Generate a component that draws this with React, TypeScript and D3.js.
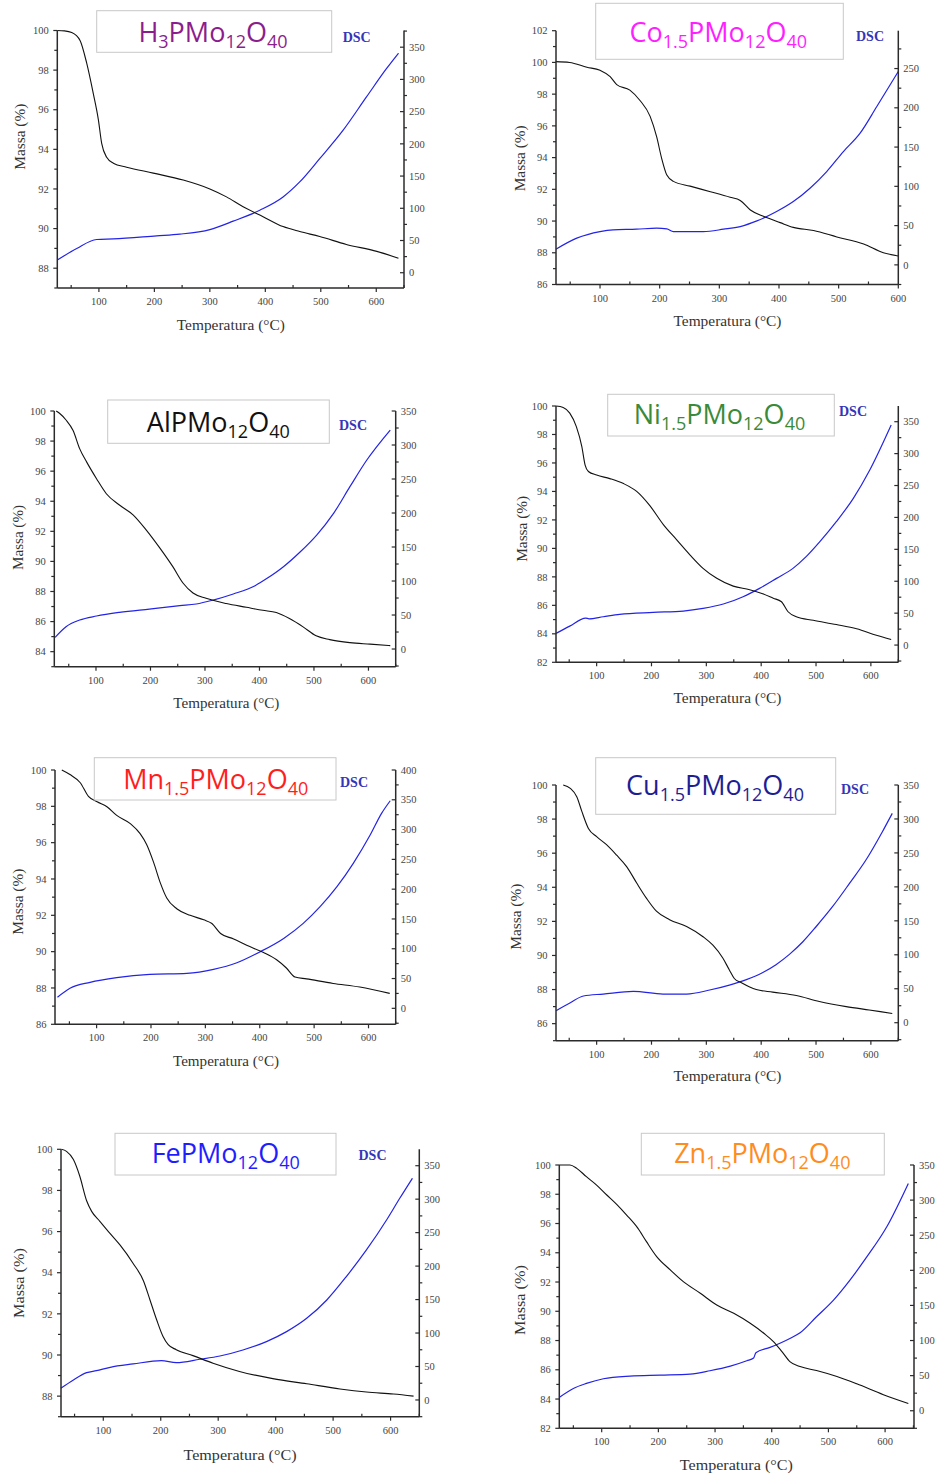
import React from 'react';
import * as d3 from 'd3';

type Pt = [number, number];

// ---------- data (temperature °C, value) ----------
const H3_TGA: Pt[] = [[25,100],[38,99.98],[51,99.9],[66,99.5],[78,98.35],[90,96.8],[99,95.5],[105,94.3],[114,93.6],[126,93.3],[150,93.1],[198,92.8],[252,92.45],[300,92.0],[330,91.6],[360,91.1],[396,90.6],[432,90.1],[462,89.85],[498,89.6],[546,89.2],[601,88.85],[640,88.5]];
const H3_DSC: Pt[] = [[25,19.6],[60,37.7],[96,51.6],[126,52.6],[204,57.3],[246,59.9],[300,67],[342,80],[390,97],[432,117.6],[462,140.9],[498,177],[540,220.8],[582,272.4],[618,316.3],[640,340.6]];

const CO_TGA: Pt[] = [[26,100.05],[49,100],[78,99.7],[100,99.5],[117,99.1],[128,98.6],[150,98.25],[167,97.6],[184,96.6],[195,95.3],[203,94.0],[212,92.9],[223,92.5],[251,92.2],[285,91.85],[318,91.5],[335,91.3],[352,90.7],[374,90.3],[402,89.9],[424,89.6],[458,89.4],[497,89.0],[542,88.55],[575,88.0],[600,87.8]];
const CO_DSC: Pt[] = [[26,19.9],[61,34],[100,42.4],[122,44.6],[161,45.4],[195,46.7],[212,45.8],[223,42.4],[273,42.4],[307,45.4],[335,48.8],[363,56],[396,67.9],[424,80.6],[452,97.6],[480,118.8],[508,144.3],[536,167.7],[564,201.6],[600,246.2]];

const AL_TGA: Pt[] = [[27,100],[33,99.85],[45,99.4],[58,98.7],[70,97.5],[83,96.6],[101,95.5],[119,94.5],[143,93.75],[168,93.1],[192,92.1],[217,90.9],[241,89.65],[260,88.55],[278,87.9],[302,87.55],[339,87.2],[376,86.95],[406,86.75],[431,86.6],[455,86.2],[480,85.65],[504,85.05],[529,84.8],[566,84.6],[603,84.5],[640,84.4]];
const AL_DSC: Pt[] = [[25,17.2],[45,32.8],[70,42.6],[101,48.5],[143,53.9],[198,58.8],[254,63.7],[284,66.2],[315,72],[352,80.9],[392,93.1],[414,103.9],[444,121],[475,143],[505,167.6],[536,199.5],[566,238.7],[597,277.9],[640,322]];

const NI_TGA: Pt[] = [[26,100],[39,99.9],[51,99.5],[63,98.55],[73,97.15],[79,95.85],[85,95.4],[100,95.15],[124,94.9],[149,94.55],[173,94.0],[197,93.0],[222,91.65],[246,90.6],[270,89.55],[294,88.6],[319,87.9],[349,87.35],[379,87.1],[404,86.8],[422,86.5],[437,86.25],[449,85.55],[464,85.2],[495,84.95],[537,84.65],[574,84.35],[610,83.9],[637,83.6]];
const NI_DSC: Pt[] = [[26,18.3],[51,29.7],[80,42.3],[86,41.2],[112,44.4],[142,48.1],[203,51.2],[258,53.3],[294,57.5],[331,64.3],[367,75.8],[397,88.8],[428,104.5],[458,120.2],[482,138.5],[507,162],[537,193.3],[568,229.9],[598,274.3],[637,344.8]];

const MN_TGA: Pt[] = [[36,100],[51,99.75],[70,99.3],[85,98.55],[101,98.25],[119,97.98],[137,97.5],[162,97.05],[180,96.5],[192,95.9],[205,94.9],[217,93.8],[229,92.95],[248,92.35],[272,92.0],[297,91.75],[312,91.55],[328,91.0],[352,90.7],[376,90.35],[407,89.95],[431,89.55],[449,89.1],[465,88.6],[486,88.5],[535,88.25],[584,88.05],[639,87.7]];
const MN_DSC: Pt[] = [[28,18.5],[51,33.6],[88,43.6],[137,51.5],[198,57],[266,58.7],[315,65.4],[358,76.6],[401,95.1],[444,117.4],[480,142.6],[511,170.6],[542,204.1],[572,243.3],[603,290.8],[624,327.2],[640,348.4]];

const CU_TGA: Pt[] = [[39,100],[52,99.8],[64,99.3],[73,98.45],[85,97.45],[100,96.97],[118,96.5],[136,95.9],[155,95.2],[173,94.25],[191,93.35],[209,92.6],[233,92.1],[264,91.7],[294,91.1],[312,90.6],[330,89.85],[342,89.15],[351,88.65],[364,88.4],[391,88.0],[421,87.85],[464,87.65],[506,87.3],[555,87.0],[597,86.8],[639,86.6]];
const CU_DSC: Pt[] = [[26,17.7],[52,29.4],[76,39.3],[112,42.2],[167,46.1],[221,42.2],[264,42.2],[306,48.1],[342,55.4],[373,63.5],[403,74],[427,85.5],[452,101],[476,119.2],[500,141.3],[530,170.8],[561,205.1],[591,239.5],[621,281.2],[639,308.2]];

const FE_TGA: Pt[] = [[27,100],[36,99.9],[48,99.5],[59,98.7],[71,97.5],[80,96.97],[94,96.5],[112,95.9],[129,95.35],[152,94.45],[170,93.6],[181,92.7],[193,91.7],[204,90.9],[213,90.5],[227,90.26],[256,89.97],[291,89.6],[337,89.2],[395,88.85],[454,88.6],[512,88.35],[558,88.2],[605,88.1],[640,88.0]];
const FE_DSC: Pt[] = [[26,17.4],[48,29.9],[71,40.8],[88,43.8],[112,48.8],[152,53.8],[201,58.8],[227,55.8],[268,60.8],[303,65.7],[343,74.7],[384,87.2],[419,102.1],[454,122],[489,149.4],[523,184.3],[558,224.1],[593,268.9],[616,301.3],[638,331.2]];

const ZN_TGA: Pt[] = [[25,100],[44,100],[56,99.77],[73,99.2],[91,98.63],[109,97.95],[126,97.33],[144,96.58],[164,95.67],[179,94.76],[197,93.74],[221,92.83],[244,92.03],[274,91.23],[303,90.43],[333,89.86],[362,89.18],[386,88.5],[403,87.93],[418,87.24],[432,86.56],[450,86.22],[479,85.95],[515,85.54],[550,85.04],[597,84.3],[641,83.7]];
const ZN_DSC: Pt[] = [[25,19],[50,31.8],[73,38.9],[103,45.6],[150,49.4],[203,50.8],[256,52.2],[291,57],[327,63.6],[356,71.2],[368,75],[372,82.6],[397,90.2],[432,103],[450,111.1],[479,133.9],[509,157.6],[538,186.1],[568,219.4],[603,262.1],[641,323.8]];

// title segments alternate: normal, subscript, normal, subscript ...
const TITLE_H3 = ['H', '3', 'PMo', '12', 'O', '40'];
const TITLE_CO = ['Co', '1.5', 'PMo', '12', 'O', '40'];
const TITLE_AL = ['AlPMo', '12', 'O', '40'];
const TITLE_NI = ['Ni', '1.5', 'PMo', '12', 'O', '40'];
const TITLE_MN = ['Mn', '1.5', 'PMo', '12', 'O', '40'];
const TITLE_CU = ['Cu', '1.5', 'PMo', '12', 'O', '40'];
const TITLE_FE = ['FePMo', '12', 'O', '40'];
const TITLE_ZN = ['Zn', '1.5', 'PMo', '12', 'O', '40'];

const X_LABEL = 'Temperatura (°C)';
const Y_LABEL = 'Massa (%)';
const DSC_LABEL = 'DSC';

// ---------- layout ----------
interface Cfg {
  title: string[]; color: string; tga: Pt[]; dsc: Pt[];
  left: number; right: number; top: number; bottom: number;
  xDom: [number, number]; yDom: [number, number]; rDom: [number, number];
  box: [number, number, number, number]; tx: number; ty: number;
  dsc_lbl: [number, number] | null;
  my: [number, number, number]; mx: [number, number, number];
}

const PANELS: Cfg[] = [
  { title: TITLE_H3, color: '#8c1e8c', tga: H3_TGA, dsc: H3_DSC,
    left: 57.3, right: 404, top: 30.5, bottom: 288, xDom: [25, 650], yDom: [87, 100], rDom: [-23.7, 375.9],
    box: [96.7, 10.7, 331.7, 52.3], tx: 213, ty: 41.7, dsc_lbl: [356.7, 41.5],
    my: [20, 136.7, 66], mx: [230.8, 325, 108] },
  { title: TITLE_CO, color: '#ff1eff', tga: CO_TGA, dsc: CO_DSC,
    left: 556, right: 898.3, top: 30.7, bottom: 284.5, xDom: [26.2, 600], yDom: [86, 102], rDom: [-25, 298.2],
    box: [595.7, 3.3, 843.3, 59.3], tx: 718.3, ty: 41.7, dsc_lbl: [870, 40.7],
    my: [520, 158.3, 66], mx: [727.5, 320.7, 108] },
  { title: TITLE_AL, color: '#111111', tga: AL_TGA, dsc: AL_DSC,
    left: 54.3, right: 395.7, top: 411, bottom: 666.7, xDom: [23.5, 650], yDom: [83, 100], rDom: [-26, 350],
    box: [107.7, 400, 329.3, 443.3], tx: 218.3, ty: 431.7, dsc_lbl: [353, 430],
    my: [18, 537.5, 65], mx: [226.3, 702.5, 106] },
  { title: TITLE_NI, color: '#3a8a3a', tga: NI_TGA, dsc: NI_DSC,
    left: 556, right: 898.3, top: 406, bottom: 662.3, xDom: [25.9, 650], yDom: [82, 100], rDom: [-27, 374.6],
    box: [607.7, 394.3, 834.3, 436], tx: 719.5, ty: 424.3, dsc_lbl: [853, 416],
    my: [521.7, 528.8, 66], mx: [727.5, 697.5, 108] },
  { title: TITLE_MN, color: '#ff1e1e', tga: MN_TGA, dsc: MN_DSC,
    left: 55, right: 395.7, top: 770, bottom: 1024.3, xDom: [23.5, 650], yDom: [86, 100], rDom: [-26.8, 400],
    box: [94.3, 757.7, 336, 800], tx: 215.7, ty: 789, dsc_lbl: [354, 787],
    my: [18, 901.7, 66], mx: [226, 1060.5, 106] },
  { title: TITLE_CU, color: '#1e1e94', tga: CU_TGA, dsc: CU_DSC,
    left: 556, right: 898.3, top: 785, bottom: 1040.7, xDom: [25.9, 650], yDom: [85, 100], rDom: [-26.5, 350],
    box: [595.7, 757.7, 835.7, 814.3], tx: 715, ty: 795, dsc_lbl: [855, 794],
    my: [515.7, 916.7, 66], mx: [727.5, 1075.5, 108] },
  { title: TITLE_FE, color: '#1e1eff', tga: FE_TGA, dsc: FE_DSC,
    left: 61, right: 419.3, top: 1149.3, bottom: 1416.7, xDom: [26.4, 650], yDom: [87, 100], rDom: [-25, 374.5],
    box: [115, 1133.3, 336, 1175], tx: 225.7, ty: 1162.7, dsc_lbl: [372.5, 1160],
    my: [19, 1283, 70], mx: [240, 1455, 113] },
  { title: TITLE_ZN, color: '#ff8c1e', tga: ZN_TGA, dsc: ZN_DSC,
    left: 559.3, right: 914, top: 1165, bottom: 1428.3, xDom: [25.2, 651], yDom: [82, 100], rDom: [-25, 350],
    box: [641.3, 1133.3, 884.3, 1175], tx: 762.3, ty: 1162.7, dsc_lbl: null,
    my: [520, 1300, 70], mx: [736.3, 1465, 113] },
];

const SERIF = '"Liberation Serif", "DejaVu Serif", "Times New Roman", serif';
const SANS = '"Open Sans", "Noto Sans", sans-serif';
const AXIS = '#2b2b2b';
const TICK_TXT = '#444';
const BLUE = '#2323e6';

function Title({ segs, x, y, color }: { segs: string[]; x: number; y: number; color: string }) {
  return (
    <text x={x} y={y} textAnchor="middle" fill={color} fontFamily={SANS} fontSize={27}>
      {segs.map((s, i) =>
        i % 2 === 0 ? (
          <tspan key={i} dy={i === 0 ? 0 : -6}>{s}</tspan>
        ) : (
          <tspan key={i} dy={6} fontSize={18}>{s}</tspan>
        )
      )}
    </text>
  );
}

function Panel({ c }: { c: Cfg }) {
  const x = d3.scaleLinear().domain(c.xDom).range([c.left, c.right]);
  const y = d3.scaleLinear().domain(c.yDom).range([c.bottom, c.top]);
  const r = d3.scaleLinear().domain(c.rDom).range([c.bottom, c.top]);
  const lineT = d3.line<Pt>().x(d => x(d[0])).y(d => y(d[1])).curve(d3.curveMonotoneX);
  const lineD = d3.line<Pt>().x(d => x(d[0])).y(d => r(d[1])).curve(d3.curveMonotoneX);

  const inX = (v: number) => v >= c.xDom[0] - 0.01 && v <= c.xDom[1] + 0.01;
  const xMajor = d3.range(100, 701, 100).filter(inX);
  const xMinor = d3.range(50, 701, 100).filter(inX);
  const yMajor = d3.range(Math.ceil(c.yDom[0] / 2) * 2, c.yDom[1] + 0.01, 2);
  const yMinor = d3.range(Math.ceil(c.yDom[0]), c.yDom[1] + 0.01, 1).filter(v => v % 2 !== 0);
  const rMajor = d3.range(0, c.rDom[1] + 0.01, 50);
  const rMinor = d3.range(-25, c.rDom[1] + 0.01, 50).filter(v => v >= c.rDom[0]);

  const [bx0, by0, bx1, by1] = c.box;
  return (
    <g>
      {/* curves */}
      <path d={lineD(c.dsc) || ''} fill="none" stroke={BLUE} strokeWidth={1.2} />
      <path d={lineT(c.tga) || ''} fill="none" stroke="#111" strokeWidth={1.1} />

      {/* axes */}
      <line x1={c.left} x2={c.left} y1={c.top} y2={c.bottom} stroke={AXIS} strokeWidth={1.5} />
      <line x1={c.right} x2={c.right} y1={c.top} y2={c.bottom} stroke={AXIS} strokeWidth={1.5} />
      <line x1={c.left} x2={c.right} y1={c.bottom} y2={c.bottom} stroke={AXIS} strokeWidth={1.5} />

      {xMajor.map(v => (
        <g key={'xm' + v}>
          <line x1={x(v)} x2={x(v)} y1={c.bottom} y2={c.bottom + 4} stroke={AXIS} strokeWidth={1.2} />
          <text x={x(v)} y={c.bottom + 17} textAnchor="middle" fontFamily={SERIF} fontSize={10.5} fill={TICK_TXT}>{v}</text>
        </g>
      ))}
      {xMinor.map(v => (
        <line key={'xn' + v} x1={x(v)} x2={x(v)} y1={c.bottom} y2={c.bottom - 3} stroke={AXIS} strokeWidth={1.2} />
      ))}
      {yMajor.map(v => (
        <g key={'ym' + v}>
          <line x1={c.left - 4} x2={c.left} y1={y(v)} y2={y(v)} stroke={AXIS} strokeWidth={1.2} />
          <text x={c.left - 8.5} y={y(v)} dy="0.35em" textAnchor="end" fontFamily={SERIF} fontSize={10.5} fill={TICK_TXT}>{v}</text>
        </g>
      ))}
      {yMinor.map(v => (
        <line key={'yn' + v} x1={c.left - 3} x2={c.left} y1={y(v)} y2={y(v)} stroke={AXIS} strokeWidth={1.2} />
      ))}
      {rMajor.map(v => (
        <g key={'rm' + v}>
          <line x1={c.right - 4} x2={c.right} y1={r(v)} y2={r(v)} stroke={AXIS} strokeWidth={1.2} />
          <text x={c.right + 5} y={r(v)} dy="0.35em" textAnchor="start" fontFamily={SERIF} fontSize={10.5} fill={TICK_TXT}>{v}</text>
        </g>
      ))}
      {rMinor.map(v => (
        <line key={'rn' + v} x1={c.right} x2={c.right + 3} y1={r(v)} y2={r(v)} stroke={AXIS} strokeWidth={1.2} />
      ))}

      {/* axis titles */}
      <text x={c.mx[0]} y={c.mx[1]} dy="0.35em" textAnchor="middle" fontFamily={SERIF} fontSize={14.5} fill="#333"
        textLength={c.mx[2]} lengthAdjust="spacingAndGlyphs">{X_LABEL}</text>
      <text transform={`translate(${c.my[0]},${c.my[1]}) rotate(-90)`} dy="0.35em" textAnchor="middle" fontFamily={SERIF}
        fontSize={14} fill="#333" textLength={c.my[2]} lengthAdjust="spacingAndGlyphs">{Y_LABEL}</text>

      {/* title box */}
      <rect x={bx0} y={by0} width={bx1 - bx0} height={by1 - by0} fill="#fff" stroke="#c8c8c8" strokeWidth={1} />
      <Title segs={c.title} x={c.tx} y={c.ty} color={c.color} />
      {c.dsc_lbl && (
        <text x={c.dsc_lbl[0]} y={c.dsc_lbl[1]} textAnchor="middle" fontFamily={SERIF} fontSize={14} fontWeight="bold" fill="#3535b8">{DSC_LABEL}</text>
      )}
    </g>
  );
}

export default function App() {
  return (
    <svg width={940} height={1476} style={{ position: 'absolute', left: 0, top: 0, background: '#fff' }}>
      <rect x={0} y={0} width={940} height={1476} fill="#fff" />
      {PANELS.map((c, i) => <Panel key={i} c={c} />)}
    </svg>
  );
}
